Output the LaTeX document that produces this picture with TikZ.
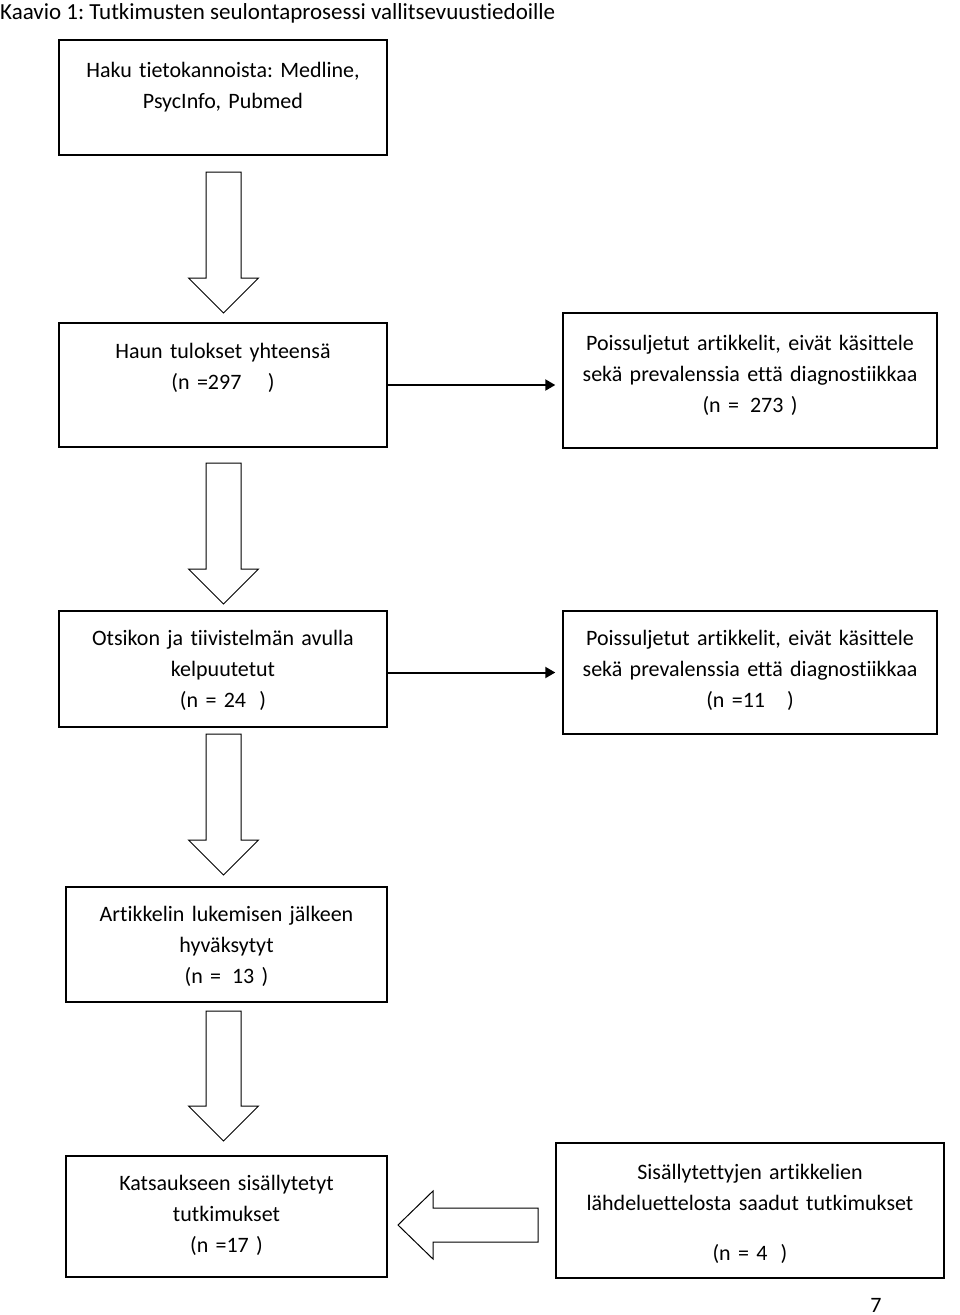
\documentclass[tikz,border=0pt]{standalone}
\usepackage{fontspec}
\setmainfont{Carlito}[Ligatures={NoCommon,NoRequired}]
\usetikzlibrary{calc,arrows.meta}
\frenchspacing

\newcommand{\downblock}[2]{%
  \draw[blockarrow] let \p1=(#1), \p2=(#2) in
    (\x1-17.5pt,\y1) -- (\x1+17.5pt,\y1) -- (\x1+17.5pt,\y2+35pt) -- (\x1+35pt,\y2+35pt)
    -- (\x2,\y2) -- (\x1-35pt,\y2+35pt) -- (\x1-17.5pt,\y2+35pt) -- cycle;}
\newcommand{\leftblock}[2]{%
  \draw[blockarrow] let \p1=(#1), \p2=(#2) in
    (\x1,\y1+17pt) -- (\x2+35pt,\y1+17pt) -- (\x2+35pt,\y1+34pt) -- (\x2,\y2)
    -- (\x2+35pt,\y1-34pt) -- (\x2+35pt,\y1-17pt) -- (\x1,\y1-17pt) -- cycle;}

\begin{document}
\begin{tikzpicture}[x=1pt,y=-1pt,
                font=\fontsize{22}{31}\selectfont,
                box/.style n args={3}{draw=black,line width=1.4pt,inner sep=0pt,align=center,
                    text width=#1,text height=#2,text depth=#3},
                blockarrow/.style={draw=black,line width=1pt,line join=miter},
                thinarrow/.style={line width=2pt,-{Triangle[length=10pt,width=11pt]},shorten >=7pt}
            ]
                \useasboundingbox (0,0) rectangle (960,1315);
                \node[anchor=base west,inner sep=0pt,font=\fontsize{23}{31}\selectfont] (title) at (0,19) {Kaavio 1: Tutkimusten seulontaprosessi vallitsevuustiedoille};

                % left column
                \node[box={328pt}{37pt}{78pt}] (haku) at (223,97.5) {Haku tietokannoista: Medline,\\PsycInfo, Pubmed};
                \node[box={328pt}{35pt}{89pt}] (tulokset) at (223,385) {Haun tulokset yhteensä\\(n =297\hspace{1.2em})};
                \node[box={328pt}{34pt}{82pt}] (otsikko) at (223,669) {Otsikon ja tiivistelmän avulla\\kelpuutetut\\(n = 24\hspace{0.6em})};
                \node[box={321pt}{34pt}{81pt}] (luettu) at (226.5,944.5) {Artikkelin lukemisen jälkeen\\hyväksytyt\\(n =\hspace{0.5em}13 )};
                \node[box={321pt}{34pt}{87pt}] (mukaan) at (226.5,1216.5) {Katsaukseen sisällytetyt\\tutkimukset\\(n =17 )};

                % right column
                \node[box={374pt}{37pt}{98pt}] (pois1) at (750,380.5) {Poissuljetut artikkelit, eivät käsittele\\sekä prevalenssia että diagnostiikkaa\\(n =\hspace{0.5em}273 )};
                \node[box={374pt}{34pt}{89pt}] (pois2) at (750,672.5) {Poissuljetut artikkelit, eivät käsittele\\sekä prevalenssia että diagnostiikkaa\\(n =11\hspace{1em})};
                \node[box={388pt}{36pt}{99pt}] (lahteet) at (750,1210.5) {Sisällytettyjen artikkelien\\lähdeluettelosta saadut tutkimukset\\[19pt](n = 4\hspace{0.6em})};

                \node[anchor=base,inner sep=0pt] (sivu) at (876,1312) {7};

                % block arrows
                \coordinate (d1a) at (223.5,172);  \coordinate (d1b) at (223.5,313);
                \coordinate (d2a) at (223.5,463);  \coordinate (d2b) at (223.5,604);
                \coordinate (d3a) at (223.5,734);  \coordinate (d3b) at (223.5,875);
                \coordinate (d4a) at (223.5,1011); \coordinate (d4b) at (223.5,1141);
                \coordinate (l1a) at (538,1225);   \coordinate (l1b) at (398,1225);
                \foreach \k in {1,...,4} {
                    \downblock{d\k a}{d\k b}
                }
                \leftblock{l1a}{l1b}

                % thin arrows
                \draw[thinarrow] (tulokset.east) -- (tulokset.east -| pois1.west);
                \draw[thinarrow] (pois2.west -| otsikko.east) -- (pois2.west);
            \end{tikzpicture}
\end{document}
